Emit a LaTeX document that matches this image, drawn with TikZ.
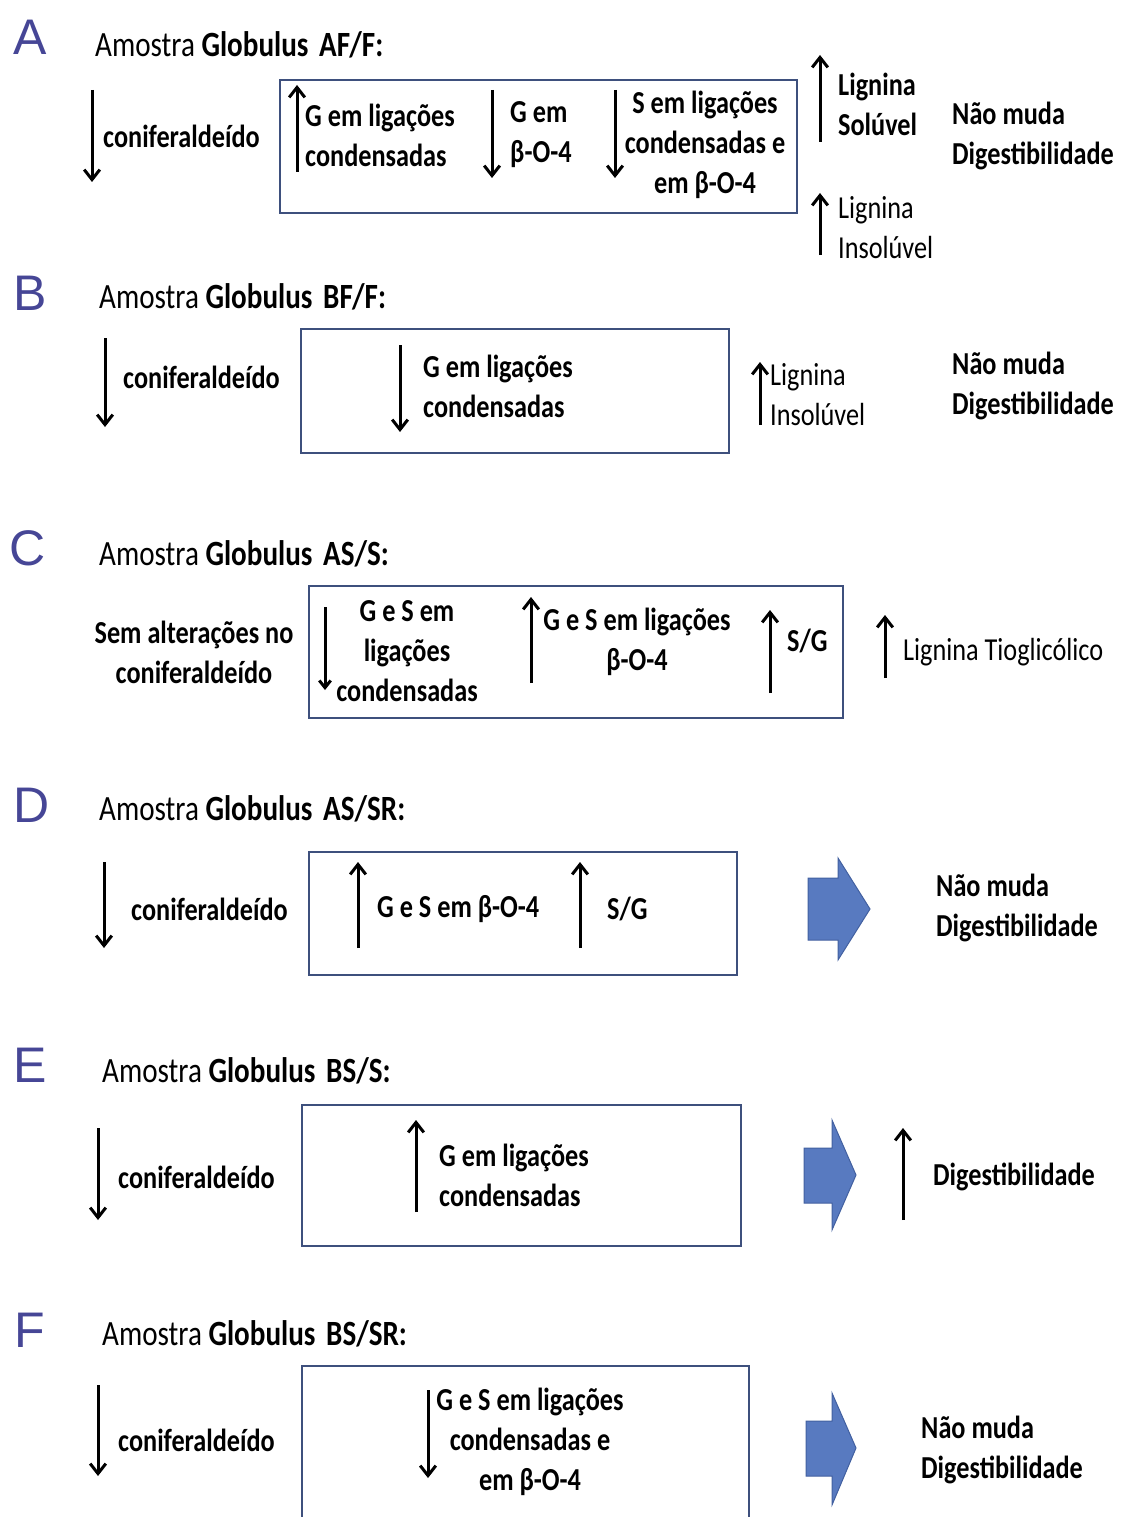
\documentclass[tikz,border=0pt]{standalone}
\usepackage{fontspec}
\setmainfont{Carlito}[FakeStretch=0.82]
\newfontfamily\letterfont{Liberation Sans}
\usepackage{tikz}
\usetikzlibrary{arrows.meta}

\definecolor{panelblue}{RGB}{70,70,150}
\definecolor{boxedge}{RGB}{62,80,125}
\definecolor{blockfill}{RGB}{88,122,192}
\definecolor{blockedge}{RGB}{66,96,160}

\begin{document}
\begin{tikzpicture}[
  x=1pt, y=-1pt,
  every node/.style={inner sep=0pt},
  panel/.style={font=\letterfont\fontsize{50}{50}\selectfont, text=panelblue},
  title/.style={anchor=base west, font=\fontsize{35.5}{40}\selectfont},
  txt/.style={font=\bfseries\fontsize{32}{40}\selectfont, align=center},
  ltxt/.style={txt, anchor=west, align=left},
  ptxt/.style={ltxt, font=\mdseries\fontsize{32}{40}\selectfont},
  box/.style={draw=boxedge, line width=2.5pt},
  arr/.style={-{Straight Barb[length=3.5mm, width=5.5mm]}, line width=3pt},
  blk/.style={fill=blockfill, draw=blockedge, line width=1pt}
]
\clip (0,0) rectangle (1120,1517);

% A
\node[panel] (letA) at (30,37) {A};
\node[title] (titA) at (95,57) {Amostra \textbf{Globulus\hspace{0.3em}AF/F:}};
\draw[arr] (92,90) -- (92,182);
\node[ltxt] (conA) at (103,136) {coniferaldeído};
\draw[box] (280,80) rectangle (797,213);
\draw[arr] (297,172) -- (297,85);
\node[ltxt] (gcondA) at (305,135) {G em ligações\\condensadas};
\draw[arr] (492,90) -- (492,178);
\node[ltxt] (gbA) at (510,135) {G em\\β-O-4};
\draw[arr] (615,90) -- (615,178);
\node[txt] (sA) at (705,145) {S em ligações\\condensadas e\\em β-O-4};
\draw[arr] (820,142) -- (820,55);
\node[ltxt] (solA) at (838,104) {Lignina\\Solúvel};
\draw[arr] (820,255) -- (820,193);
\node[ptxt] (insA) at (838,228) {Lignina\\Insolúvel};
\node[ltxt] (digA) at (952,136) {Não muda\\Digestibilidade};

% B
\node[panel] (letB) at (30,293) {B};
\node[title] (titB) at (99,308) {Amostra \textbf{Globulus\hspace{0.3em}BF/F:}};
\draw[arr] (105,338) -- (105,427);
\node[ltxt] (conB) at (123,377) {coniferaldeído};
\draw[box] (301,329) rectangle (729,453);
\draw[arr] (400,345) -- (400,432);
\node[ltxt] (gcondB) at (423,386) {G em ligações\\condensadas};
\draw[arr] (760,425) -- (760,362);
\node[ptxt] (insB) at (770,395) {Lignina\\Insolúvel};
\node[ltxt] (digB) at (952,386) {Não muda\\Digestibilidade};

% C
\node[panel] (letC) at (28,548) {C};
\node[title] (titC) at (99,565) {Amostra \textbf{Globulus\hspace{0.3em}AS/S:}};
\node[txt] (conC) at (194,652) {Sem alterações no\\coniferaldeído};
\draw[box] (309,586) rectangle (843,718);
\draw[arr, -{Straight Barb[length=2.5mm, width=4mm]}] (325,607) -- (325,690);
\node[txt] (gsC) at (407,651) {G e S em\\ligações\\condensadas};
\draw[arr] (531,683) -- (531,597);
\node[txt] (gsbC) at (637,642) {G e S em ligações\\β-O-4};
\draw[arr] (770,693) -- (770,610);
\node[ltxt] (sgC) at (787,641) {S/G};
\draw[arr] (885,678) -- (885,615);
\node[ptxt] (tioC) at (903,652) {Lignina Tioglicólico};

% D
\node[panel] (letD) at (32,805) {D};
\node[title] (titD) at (99,820) {Amostra \textbf{Globulus\hspace{0.3em}AS/SR:}};
\draw[arr] (104,862) -- (104,948);
\node[ltxt] (conD) at (131,909) {coniferaldeído};
\draw[box] (309,852) rectangle (737,975);
\draw[arr] (358,948) -- (358,862);
\node[ltxt] (gsD) at (377,909) {G e S em β-O-4};
\draw[arr] (580,948) -- (580,862);
\node[ltxt] (sgD) at (607,909) {S/G};
\filldraw[blk] (808,878) -- (838,878) -- (838,858) -- (870,909) -- (838,960) -- (838,940) -- (808,940) -- cycle;
\node[ltxt] (digD) at (936,908) {Não muda\\Digestibilidade};

% E
\node[panel] (letE) at (30,1065) {E};
\node[title] (titE) at (102,1082) {Amostra \textbf{Globulus\hspace{0.3em}BS/S:}};
\draw[arr] (98,1128) -- (98,1220);
\node[ltxt] (conE) at (118,1177) {coniferaldeído};
\draw[box] (302,1105) rectangle (741,1246);
\draw[arr] (416,1212) -- (416,1120);
\node[ltxt] (gcondE) at (439,1175) {G em ligações\\condensadas};
\filldraw[blk] (804,1148) -- (832,1148) -- (832,1120) -- (856,1175) -- (832,1230) -- (832,1203) -- (804,1203) -- cycle;
\draw[arr] (903,1220) -- (903,1128);
\node[ltxt] (digE) at (933,1177) {Digestibilidade};

% F
\node[panel] (letF) at (30,1330) {F};
\node[title] (titF) at (102,1345) {Amostra \textbf{Globulus\hspace{0.3em}BS/SR:}};
\draw[arr] (98,1385) -- (98,1476);
\node[ltxt] (conF) at (118,1440) {coniferaldeído};
\draw[box] (302,1366) rectangle (749,1540);
\draw[arr] (428,1390) -- (428,1478);
\node[txt] (gsF) at (530,1442) {G e S em ligações\\condensadas e\\em β-O-4};
\filldraw[blk] (806,1421) -- (832,1421) -- (832,1393) -- (856,1448) -- (832,1505) -- (832,1476) -- (806,1476) -- cycle;
\node[ltxt] (digF) at (921,1450) {Não muda\\Digestibilidade};
\end{tikzpicture}
\end{document}
